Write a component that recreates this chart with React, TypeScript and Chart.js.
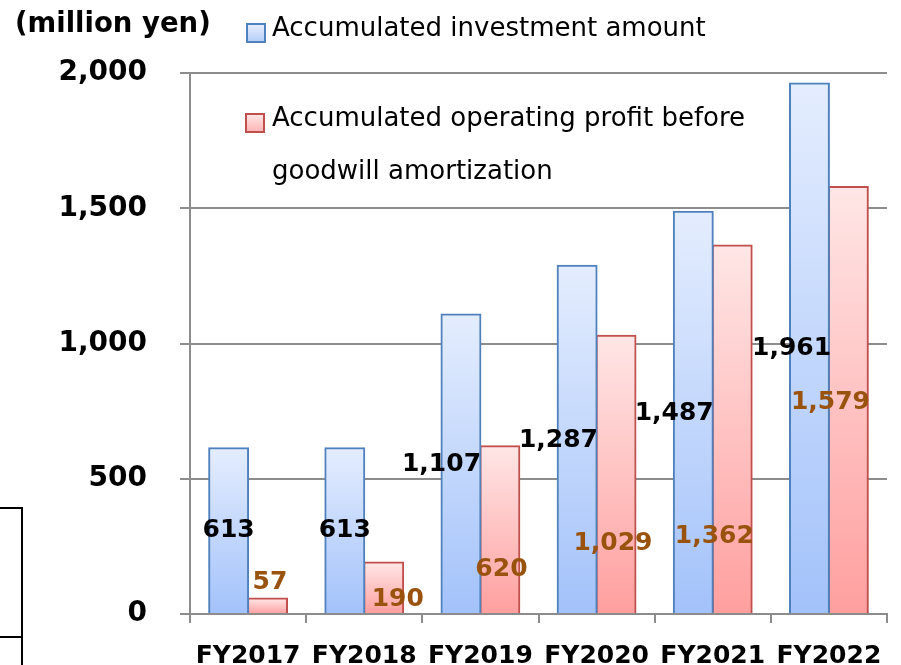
import React, { useEffect, useRef } from "react";
import { Chart, registerables } from "chart.js";
Chart.register(...registerables);

const categories = ["FY2017", "FY2018", "FY2019", "FY2020", "FY2021", "FY2022"];
const investment = [613, 613, 1107, 1287, 1487, 1961];
const profit = [57, 190, 620, 1029, 1362, 1579];
const yTicks = [0, 500, 1000, 1500, 2000];
const unitLabel = "(million yen)";
const investmentName = "Accumulated investment amount";
const profitNameLines = ["Accumulated operating profit before", "goodwill amortization"];
// where each value label sits: value on y axis and shift in bar widths from bar centre
const investmentLabelAt = [307, 307, 551, 643, 743, 983];
const investmentLabelShift = [0, 0, -0.5, -0.48, -0.49, -0.46];
const profitLabelAt = [118, 55, 163, 262, 285, 783];
const profitLabelShift = [0.06, 0.36, 0.04, -0.08, -0.46, -0.46];

const FONT = "'DejaVu Sans', Verdana, sans-serif";
const GRID = "#8c8c8c";
const BLUE_EDGE = "#4f81bd";
const RED_EDGE = "#c0504d";
const BROWN = "#9a520f";

function barFill(top: string, bottom: string) {
  return (c: any) => {
    const chart = c.chart;
    const y = chart.scales && chart.scales.y;
    if (!y || !chart.chartArea || c.type !== "data") return bottom;
    const y0 = y.getPixelForValue(0);
    const y1 = y.getPixelForValue(c.raw as number);
    if (!isFinite(y0) || !isFinite(y1) || y0 === y1) return bottom;
    const g = chart.ctx.createLinearGradient(0, y1, 0, y0);
    g.addColorStop(0, top);
    g.addColorStop(1, bottom);
    return g;
  };
}

const valueLabels = {
  id: "valueLabels",
  afterDatasetsDraw(chart: any) {
    const ctx = chart.ctx;
    const ys = chart.scales.y;
    const specs = [
      { data: investment, at: investmentLabelAt, shift: investmentLabelShift, color: "#000" },
      { data: profit, at: profitLabelAt, shift: profitLabelShift, color: BROWN },
    ];
    ctx.save();
    ctx.font = `bold 25px ${FONT}`;
    ctx.textAlign = "center";
    ctx.textBaseline = "middle";
    specs.forEach((s, di) => {
      const meta = chart.getDatasetMeta(di);
      meta.data.forEach((el: any, i: number) => {
        const x = el.x + s.shift[i] * el.width;
        const y = ys.getPixelForValue(s.at[i]);
        ctx.fillStyle = s.color;
        ctx.fillText(s.data[i].toLocaleString("en-US"), x, y);
      });
    });
    ctx.restore();
  },
};

const decorations = {
  id: "decorations",
  afterDraw(chart: any) {
    const ctx = chart.ctx;
    ctx.save();
    // unit label
    ctx.fillStyle = "#000";
    ctx.font = `bold 27.5px ${FONT}`;
    ctx.textBaseline = "middle";
    ctx.textAlign = "left";
    ctx.fillText(unitLabel, 15, 25);
    // legend
    const box = (x: number, y: number, top: string, bottom: string, edge: string) => {
      const g = ctx.createLinearGradient(0, y, 0, y + 18);
      g.addColorStop(0, top);
      g.addColorStop(1, bottom);
      ctx.fillStyle = g;
      ctx.fillRect(x, y, 18, 18);
      ctx.strokeStyle = edge;
      ctx.lineWidth = 2;
      ctx.strokeRect(x, y, 18, 18);
    };
    box(247, 24, "#e6eefe", "#b4cdfa", BLUE_EDGE);
    box(246, 114, "#ffe8e8", "#ffb3b3", RED_EDGE);
    ctx.fillStyle = "#000";
    ctx.font = `26px ${FONT}`;
    ctx.fillText(investmentName, 272, 29);
    ctx.fillText(profitNameLines[0], 272, 119);
    ctx.fillText(profitNameLines[1], 272, 172);
    // cut-off frame at left edge
    ctx.strokeStyle = "#000";
    ctx.lineWidth = 2;
    ctx.beginPath();
    ctx.moveTo(0, 508);
    ctx.lineTo(22, 508);
    ctx.lineTo(22, 665);
    ctx.moveTo(0, 637);
    ctx.lineTo(22, 637);
    ctx.stroke();
    ctx.restore();
  },
};

export default function App() {
  const ref = useRef<HTMLCanvasElement>(null);
  useEffect(() => {
    if (!ref.current) return;
    const chart = new Chart(ref.current, {
      type: "bar",
      data: {
        labels: categories,
        datasets: [
          {
            label: investmentName,
            data: investment,
            backgroundColor: barFill("#e4edfe", "#a3c2fa"),
            borderColor: BLUE_EDGE,
            borderWidth: 2,
            inflateAmount: 1,
            categoryPercentage: 0.67,
            barPercentage: 1,
          },
          {
            label: profitNameLines.join(" "),
            data: profit,
            backgroundColor: barFill("#ffe6e6", "#ff9f9f"),
            borderColor: RED_EDGE,
            borderWidth: 2,
            inflateAmount: 1,
            categoryPercentage: 0.67,
            barPercentage: 1,
          },
        ],
      },
      options: {
        animation: false,
        responsive: true,
        maintainAspectRatio: false,
        layout: { padding: { left: 0, right: 14, top: 73, bottom: 0 } },
        plugins: { legend: { display: false }, tooltip: { enabled: false } },
        scales: {
          x: {
            grid: { drawOnChartArea: false, drawTicks: true, tickLength: 9, offset: true, color: GRID, lineWidth: 2 },
            border: { display: true, color: GRID, width: 2 },
            ticks: {
              color: "#000",
              font: { family: FONT, weight: "bold", size: 25 },
              padding: 18,
              maxRotation: 0,
              autoSkip: false,
            },
            afterFit: (s: any) => {
              s.height = 51;
            },
          },
          y: {
            min: 0,
            max: 2000,
            afterBuildTicks: (s: any) => {
              s.ticks = yTicks.map((v) => ({ value: v }));
            },
            grid: { color: GRID, lineWidth: 2, tickLength: 10, drawTicks: true },
            border: { display: true, color: GRID, width: 2 },
            ticks: {
              color: "#000",
              font: { family: FONT, weight: "bold", size: 28 },
              padding: 33,
              callback: (v: any) => Number(v).toLocaleString("en-US"),
            },
            afterFit: (s: any) => {
              s.width = 190;
            },
          },
        },
      },
      plugins: [valueLabels, decorations],
    });
    return () => chart.destroy();
  }, []);
  return (
    <div style={{ position: "fixed", left: 0, top: 0, width: 901, height: 665, background: "#fff" }}>
      <canvas ref={ref} />
    </div>
  );
}
